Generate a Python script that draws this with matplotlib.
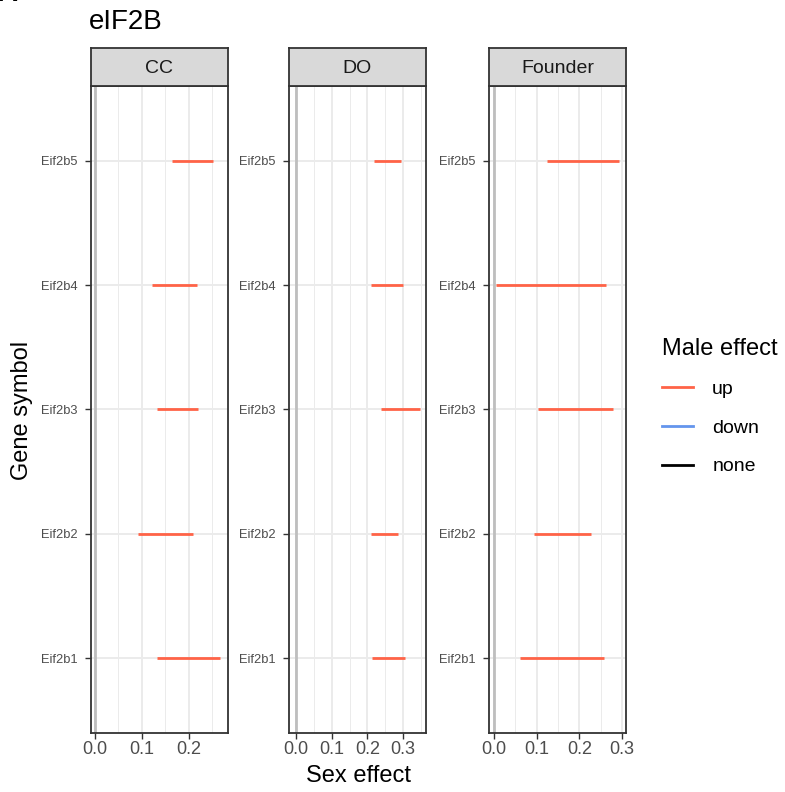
import matplotlib.pyplot as plt
from matplotlib.lines import Line2D
from matplotlib.ticker import MultipleLocator

plt.rcParams['font.family'] = ['Liberation Sans', 'DejaVu Sans']

# data
genes = ['Eif2b1', 'Eif2b2', 'Eif2b3', 'Eif2b4', 'Eif2b5']
panels = ['CC', 'DO', 'Founder']
cc_lo = [0.132, 0.091, 0.132, 0.121, 0.164]
cc_hi = [0.265, 0.209, 0.219, 0.217, 0.251]
do_lo = [0.213, 0.210, 0.238, 0.210, 0.218]
do_hi = [0.305, 0.286, 0.347, 0.300, 0.294]
fo_lo = [0.061, 0.094, 0.103, 0.005, 0.124]
fo_hi = [0.258, 0.227, 0.279, 0.262, 0.293]
effect = ['up', 'up', 'up', 'up', 'up']
xlims = [(-0.0085, 0.283), (-0.0196, 0.364), (-0.0117, 0.309)]
xticks = [[0.0, 0.1, 0.2], [0.0, 0.1, 0.2, 0.3], [0.0, 0.1, 0.2, 0.3]]

colors = {'up': '#FF6347', 'down': '#6495ED', 'none': 'black'}
lows = [cc_lo, do_lo, fo_lo]
highs = [cc_hi, do_hi, fo_hi]

W, H = 785, 792
fig = plt.figure(figsize=(W / 100, H / 100), dpi=100)


def px_axes(x0, y0, x1, y1):
    return fig.add_axes([x0 / W, 1 - y1 / H, (x1 - x0) / W, (y1 - y0) / H])


lefts = [91, 289, 489]
pw = 137
top, bottom, strip_top = 86, 733, 48

for i, name in enumerate(panels):
    x0 = lefts[i]
    ax = px_axes(x0, top, x0 + pw, bottom)
    ax.set_xlim(*xlims[i])
    ax.set_ylim(0.4, 5.6)
    ax.set_xticks(xticks[i])
    ax.set_xticklabels(['%.1f' % t for t in xticks[i]])
    ax.xaxis.set_minor_locator(MultipleLocator(0.05))
    ax.set_yticks(range(1, 6))
    ax.set_yticklabels(genes)
    ax.grid(True, which='major', color='#EBEBEB', lw=1.4)
    ax.grid(True, which='minor', axis='x', color='#EBEBEB', lw=0.7)
    ax.set_axisbelow(True)
    ax.tick_params(axis='x', which='major', labelsize=13, colors='#333333',
                   labelcolor='#4D4D4D', length=4, width=1.0, pad=1.5)
    ax.tick_params(axis='y', which='major', labelsize=9.3, colors='#333333',
                   labelcolor='#4D4D4D', length=4.3, width=1.0, pad=5.5)
    ax.tick_params(which='minor', length=0)
    for s in ax.spines.values():
        s.set_color('#333333')
        s.set_linewidth(1.3)
    ax.axvline(0, color='#BEBEBE', lw=2, zorder=1)
    for j, g in enumerate(genes):
        ax.plot([lows[i][j], highs[i][j]], [j + 1, j + 1],
                color=colors[effect[j]], lw=2.0, solid_capstyle='butt', zorder=3)

    sax = px_axes(x0, strip_top, x0 + pw, top)
    sax.set_facecolor('#D9D9D9')
    sax.set_xticks([])
    sax.set_yticks([])
    for s in sax.spines.values():
        s.set_color('#333333')
        s.set_linewidth(1.3)
    sax.text(0.5, 0.47, name, ha='center', va='center', fontsize=14,
             color='#1A1A1A', transform=sax.transAxes)

fig.text(89 / W, 1 - 22 / H, 'eIF2B', fontsize=20, ha='left', va='center')
fig.text(-3 / W, 1 + 6 / H, 'A', fontsize=20, fontweight='bold', ha='left', va='center')
fig.text(358 / W, 1 - 776 / H, 'Sex effect', fontsize=17, ha='center', va='center')
fig.text(22 / W, 1 - 410 / H, 'Gene symbol', fontsize=17, ha='center', va='center',
         rotation=90)

handles = [Line2D([], [], color=colors[k], lw=2.0) for k in ['up', 'down', 'none']]
leg = fig.legend(handles, ['up', 'down', 'none'], title='Male effect',
                 loc='upper left', bbox_to_anchor=(650 / W, 1 - 326 / H),
                 frameon=False, fontsize=14, title_fontsize=17,
                 handlelength=1.6, labelspacing=1.08, handletextpad=1.0,
                 borderpad=0.6, borderaxespad=0)
leg._legend_box.align = 'left'

fig.savefig('out.png', dpi=100)
